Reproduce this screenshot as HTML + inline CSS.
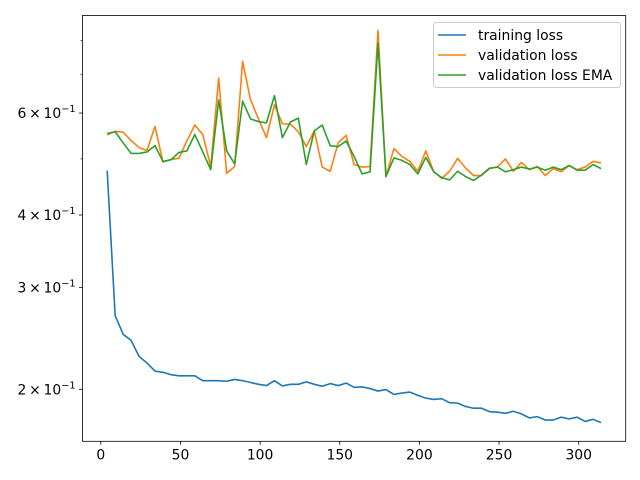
<!DOCTYPE html>
<html><head><meta charset="utf-8"><style>
body{margin:0;background:#fff}
svg{display:block;font-family:"DejaVu Sans","Liberation Sans",sans-serif}
</style></head><body>
<svg id="chart" width="640" height="480" viewBox="0 0 640 480">
<rect width="640" height="480" fill="#fff"/>
<g id="plot"></g>
<g id="axes"></g>
<g id="legend"></g>
</svg>
<script>
const epochs = [4,9,14,19,24,29,34,39,44,49,54,59,64,69,74,79,84,89,94,99,104,109,114,119,124,129,134,139,144,149,154,159,164,169,174,179,184,189,194,199,204,209,214,219,224,229,234,239,244,249,254,259,264,269,274,279,284,289,294,299,304,309,314];
const trainLoss = [0.477,0.268,0.249,0.243,0.228,0.222,0.215,0.214,0.212,0.211,0.211,0.211,0.207,0.207,0.207,0.2065,0.208,0.207,0.2055,0.204,0.203,0.207,0.2027,0.204,0.204,0.206,0.204,0.2024,0.2046,0.203,0.205,0.2016,0.2019,0.2006,0.1986,0.1998,0.196,0.197,0.1978,0.1952,0.1931,0.1921,0.1927,0.1896,0.1893,0.1868,0.1855,0.1855,0.183,0.1826,0.1818,0.1833,0.1814,0.1785,0.1794,0.177,0.177,0.179,0.1778,0.179,0.176,0.1775,0.1752];
const valLoss = [0.550,0.558,0.556,0.538,0.523,0.517,0.569,0.494,0.499,0.501,0.537,0.572,0.551,0.485,0.690,0.472,0.485,0.737,0.632,0.586,0.544,0.620,0.575,0.574,0.557,0.525,0.559,0.484,0.476,0.533,0.549,0.489,0.484,0.485,0.833,0.466,0.521,0.505,0.495,0.476,0.516,0.475,0.463,0.476,0.501,0.482,0.468,0.468,0.481,0.484,0.500,0.476,0.493,0.479,0.485,0.468,0.481,0.475,0.487,0.479,0.484,0.495,0.492];
const valEma = [0.553,0.557,0.533,0.511,0.511,0.514,0.527,0.495,0.498,0.513,0.516,0.551,0.514,0.479,0.632,0.516,0.490,0.629,0.586,0.580,0.577,0.643,0.544,0.579,0.588,0.489,0.559,0.572,0.527,0.525,0.537,0.505,0.471,0.475,0.792,0.466,0.502,0.497,0.489,0.471,0.503,0.475,0.464,0.460,0.476,0.466,0.459,0.469,0.482,0.484,0.475,0.479,0.484,0.480,0.484,0.478,0.484,0.479,0.487,0.478,0.478,0.489,0.481];
const xTicks = [0,50,100,150,200,250,300];
const yMajorTicks = [2,3,4,6];
const yMinorTicks = [5,7,8];
const seriesNames = ["training loss","validation loss","validation loss EMA"];

const NS="http://www.w3.org/2000/svg";
const L=82.5,R=625.7,T=15.5,B=441.3;
const xMin=-11.5,xMax=329.5;
const X=v=>L+(v-xMin)/(xMax-xMin)*(R-L);
const PPD=579, Y=v=>389.3-PPD*Math.log10(v/0.2);
function mk(tag,attrs,parent){const e=document.createElementNS(NS,tag);for(const k in attrs)e.setAttribute(k,attrs[k]);parent.appendChild(e);return e;}
const plot=document.getElementById('plot'),axes=document.getElementById('axes'),legend=document.getElementById('legend');
const colors=["#1f77b4","#ff7f0e","#2ca02c"];
const cp=mk('clipPath',{id:'clip'},plot);mk('rect',{x:L,y:T,width:R-L,height:B-T},cp);
[trainLoss,valLoss,valEma].forEach((s,k)=>{
  const p=mk('polyline',{points:s.map((v,i)=>X(epochs[i]).toFixed(2)+','+Y(v).toFixed(2)).join(' '),fill:'none',stroke:colors[k],'stroke-width':1.6,'stroke-linejoin':'round','clip-path':'url(#clip)'},plot);
  
  
});
const frame=mk('rect',{x:L,y:T,width:R-L,height:B-T,fill:'none',stroke:'#000','stroke-width':0.8},axes);


xTicks.forEach(t=>{
  const x=X(t);
  mk('line',{x1:x,x2:x,y1:B,y2:B+3.5,stroke:'#000','stroke-width':0.8},axes);
  const tx=mk('text',{x:x,y:B+18,'text-anchor':'middle','font-size':13.9,fill:'#000'},axes);
  tx.textContent=t;
  
  
});
yMajorTicks.forEach(t=>{
  const y=Y(t/10);
  mk('line',{x1:L,x2:L-3.5,y1:y,y2:y,stroke:'#000','stroke-width':0.8},axes);
  const tx=mk('text',{x:L-7,y:y+5,'text-anchor':'end','font-size':13.9,fill:'#000'},axes);
  tx.innerHTML=t+'\u2009\u00d7\u200910<tspan dy="-6" font-size="9.7">\u22121</tspan>';
  
  
});
yMinorTicks.forEach(t=>{
  const y=Y(t/10);
  mk('line',{x1:L,x2:L-2,y1:y,y2:y,stroke:'#000','stroke-width':0.6},axes);
});
const lb=mk('rect',{x:433.5,y:22.5,width:187,height:65,rx:3,fill:'#fff','fill-opacity':0.8,stroke:'#ccc','stroke-width':1},legend);


seriesNames.forEach((n,k)=>{
  const y=35+k*20;
  const ln=mk('line',{x1:438,x2:466,y1:y,y2:y,stroke:colors[k],'stroke-width':1.5},legend);
  
  
  const tx=mk('text',{x:478,y:y+5,'font-size':13.9,fill:'#000'},legend);
  tx.textContent=n;
  
  
});
</script>
</body></html>
